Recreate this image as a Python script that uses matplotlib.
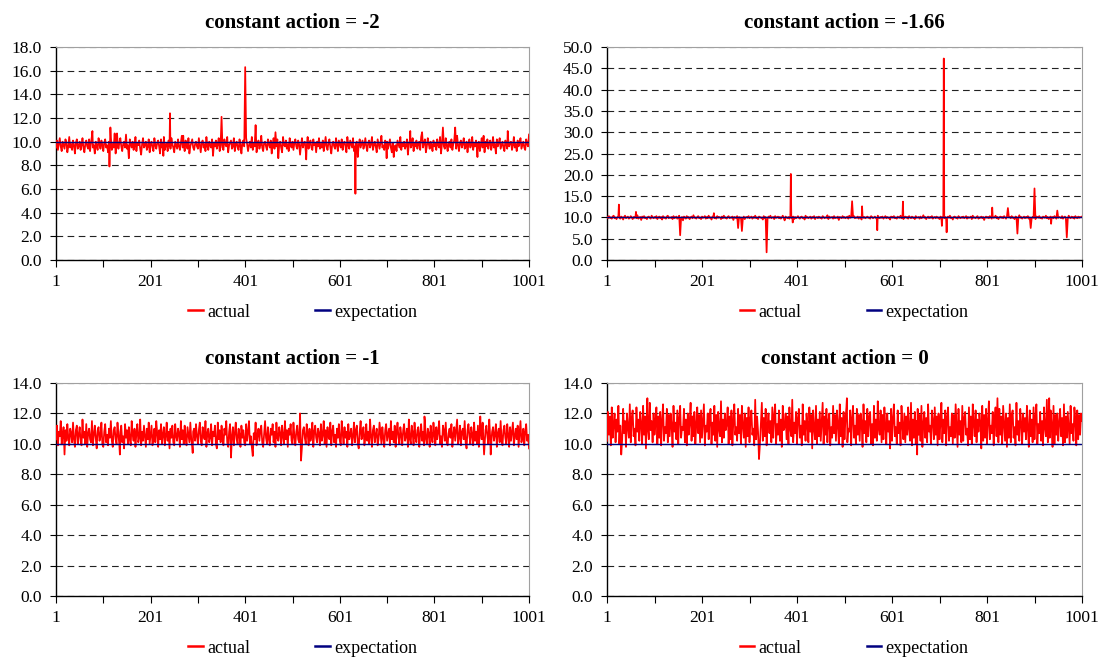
import numpy as np
import matplotlib
matplotlib.use('Agg')
import matplotlib.pyplot as plt

plt.rcParams['font.family'] = ['Liberation Serif', 'DejaVu Serif']

titles = ['constant action = -2', 'constant action = -1.66',
          'constant action = -1', 'constant action = 0']
expectation = [10.0, 10.0, 10.0, 10.0]
y_max = [18.0, 50.0, 14.0, 14.0]
y_step = [2.0, 5.0, 2.0, 2.0]

# noise of "actual", read every 2nd step (1, 3, 5, ... 1001)
p1_base = [
    9.5,10.1,9.3,9.8,10.3,9.6,9.2,10.0,9.7,9.4,10.2,9.9,9.1,9.6,10.4,9.5,9.8,9.3,10.1,9.7,9.0,9.9,10.2,9.4,9.6,
    10.0,9.3,9.7,10.3,9.5,9.1,9.8,10.1,9.6,9.4,10.2,9.2,9.9,10.5,9.5,9.7,9.0,10.0,9.6,9.3,10.3,9.8,9.4,10.1,9.7,
    9.2,9.9,10.2,9.5,9.7,9.1,10.0,9.6,10.4,9.3,9.8,9.5,10.2,9.0,9.7,10.1,9.4,9.9,10.3,9.6,9.2,9.8,10.0,9.5,10.6,
    9.4,9.7,9.1,10.2,9.8,9.5,10.0,9.3,9.6,10.4,9.2,9.9,9.7,10.1,9.4,8.9,9.8,10.3,9.5,9.7,10.0,9.3,9.6,10.2,9.1,
    9.8,10.0,9.5,9.2,10.3,9.7,9.4,9.9,10.1,9.6,9.0,10.2,9.5,9.8,10.4,9.3,9.7,9.9,9.2,10.1,9.6,9.4,10.3,9.8,9.5,
    9.1,10.0,9.7,9.4,10.2,9.6,9.3,9.9,10.5,9.5,9.8,9.2,10.1,9.7,9.4,10.3,9.0,9.6,9.9,10.2,9.5,9.3,9.8,10.0,9.6,
    9.4,10.3,9.7,9.1,9.9,10.1,9.5,9.8,9.2,10.4,9.6,9.3,10.0,9.7,9.5,10.2,8.8,9.9,9.6,10.1,9.4,9.8,10.3,9.2,9.7,
    10.0,9.5,9.3,10.2,9.8,9.6,10.4,9.1,9.7,9.9,10.1,9.4,9.6,10.3,9.2,9.8,10.0,9.5,9.3,10.2,9.7,9.0,9.9,10.1,9.6,
    9.4,10.3,9.8,9.2,9.7,10.0,9.5,10.4,9.3,9.9,9.6,10.2,9.1,9.8,10.1,9.4,9.7,10.5,9.5,9.2,9.9,10.0,9.6,9.3,10.2,
    9.8,9.5,10.1,9.0,9.7,10.3,9.4,9.9,9.6,10.2,9.3,9.8,10.0,9.5,9.1,10.4,9.7,9.6,10.1,9.4,9.8,9.2,10.3,9.7,9.5,
    10.0,9.3,9.9,10.2,9.6,9.4,10.1,9.8,8.9,9.7,10.3,9.5,9.9,10.0,9.2,9.6,10.4,9.4,9.8,10.1,9.5,9.3,10.2,9.7,9.9,
    9.1,10.0,9.6,10.3,9.4,9.8,9.5,10.1,9.2,9.7,10.4,9.6,9.3,9.9,10.2,9.5,9.0,9.8,10.0,9.6,9.4,10.3,9.7,9.2,10.1,
    9.8,9.5,10.2,9.3,9.9,10.0,9.6,9.1,10.4,9.7,9.4,10.1,9.8,9.5,10.3,9.2,9.6,9.9,10.0,8.7,9.7,10.2,9.5,9.8,10.1,
    9.4,9.7,10.3,9.6,9.2,9.9,10.1,9.5,9.8,10.4,9.3,9.7,10.0,9.6,9.1,10.2,9.8,9.4,9.9,10.5,9.5,9.7,9.3,10.1,9.6,
    10.0,9.4,9.8,10.2,9.5,9.1,9.9,10.3,9.6,9.7,9.2,10.1,9.8,9.5,10.4,9.3,9.9,9.6,10.0,9.4,9.7,10.2,8.9,9.8,10.1,
    9.5,9.7,10.3,9.2,9.9,9.6,10.1,9.4,9.8,10.0,9.3,10.4,9.7,9.5,9.9,10.2,9.1,9.6,10.3,9.8,9.4,10.0,9.7,9.2,10.1,
    9.6,9.9,9.3,10.2,9.7,9.5,10.4,9.0,9.8,10.1,9.6,9.4,10.3,9.7,9.2,9.9,10.0,9.5,10.2,9.3,9.8,10.1,9.6,9.4,10.5,
    9.7,9.2,9.9,10.1,9.5,9.8,10.3,9.4,9.6,10.0,9.1,9.8,10.2,9.5,9.7,10.4,9.3,9.9,9.6,10.1,9.4,9.8,10.0,9.2,9.7,
    10.3,9.5,9.8,9.1,10.0,9.6,10.2,9.4,9.9,10.1,9.3,9.7,10.4,9.5,9.8,9.0,10.2,9.6,9.9,10.3,9.4,9.7,10.0,9.5,9.2,
    10.1,9.8,9.4,10.2,9.6,9.9,10.0,9.3,9.7,10.4,9.5,9.8,9.2,10.1,9.6,9.9,10.3,9.4,9.7,10.0,9.5,9.3,10.2,9.8,9.6,
    10.6]
p1_spike_x = [78, 114, 116, 125, 130, 155, 228, 242, 270, 351, 401, 423, 465, 471,
              530, 634, 700, 715, 750, 775, 819, 845, 892, 905, 956]
p1_spike_y = [10.9, 7.9, 11.2, 10.7, 10.7, 8.6, 8.8, 12.4, 10.5, 12.1, 16.3, 11.4, 10.8, 8.6,
              8.5, 5.6, 8.6, 8.7, 10.9, 10.8, 11.2, 11.2, 8.7, 10.5, 10.9]

p2_base = [
    10.1,9.8,10.3,9.9,10.0,9.7,10.2,10.4,9.8,10.0,9.6,10.1,10.3,9.9,9.7,10.2,10.0,9.5,10.1,10.4,9.8,10.0,10.2,9.7,9.9,
    10.3,10.0,9.6,10.1,9.9,10.2,9.8,10.5,9.7,10.0,10.1,9.4,10.2,9.9,10.3,9.8,10.0,9.6,10.1,10.2,9.9,9.7,10.4,10.0,9.8,
    10.1,9.9,10.3,9.6,10.0,10.2,9.8,10.1,9.5,10.3,9.9,10.0,9.7,10.2,10.4,9.8,10.0,9.9,10.1,9.6,10.3,9.8,10.0,10.2,9.7,
    10.0,10.4,9.8,9.9,10.1,9.3,10.2,10.0,9.7,10.3,9.9,10.1,9.6,10.0,10.2,9.8,10.5,9.9,10.0,9.7,10.1,10.3,9.8,10.0,9.6,
    10.2,9.9,10.0,10.3,9.7,10.1,9.8,10.4,9.9,10.0,9.5,10.2,10.1,9.8,10.0,9.7,10.3,9.9,10.1,10.0,9.6,10.2,9.8,10.4,9.9,
    10.0,9.7,10.1,10.3,9.8,10.0,9.9,10.2,9.4,10.1,10.0,9.8,10.3,9.7,10.1,9.9,10.0,10.5,9.8,10.2,9.6,10.0,10.1,9.9,10.3,
    9.8,10.0,10.2,9.7,10.1,9.9,10.4,9.8,10.0,9.6,10.2,10.1,9.9,10.0,9.5,10.3,9.8,10.1,10.0,9.7,10.2,9.9,10.4,9.8,10.0,
    10.1,9.6,10.3,9.9,10.0,10.2,9.8,10.1,9.7,10.0,10.4,9.9,9.3,10.2,10.0,9.8,10.1,9.7,10.3,9.9,10.0,10.2,9.6,10.1,9.8,
    10.0,10.3,9.9,9.7,10.1,10.2,9.8,10.0,9.5,10.4,9.9,10.1,9.8,10.0,10.2,9.7,10.1,9.9,10.3,9.6,10.0,10.1,9.8,10.2,9.9,
    10.0,9.7,10.3,10.1,9.8,10.0,9.9,10.5,9.6,10.2,9.9,10.0,10.1,9.7,10.3,9.8,10.0,9.9,10.2,9.4,10.1,10.0,9.8,10.3,9.9,
    10.1,9.8,10.0,10.2,9.7,10.4,9.9,10.0,9.6,10.1,10.3,9.8,10.0,9.9,10.2,9.7,10.1,10.0,9.5,10.3,9.9,10.1,9.8,10.0,10.2,
    9.9,10.0,9.7,10.3,10.1,9.8,10.0,10.2,9.9,9.6,10.4,10.0,9.8,10.1,9.9,10.2,9.7,10.0,10.3,9.8,10.1,9.9,10.0,9.5,10.2,
    10.1,9.9,10.3,9.8,10.0,9.7,10.2,10.0,9.9,10.4,9.8,10.1,9.6,10.0,10.2,9.9,10.1,9.7,10.3,10.0,9.8,10.2,9.9,10.0,9.6,
    10.3,9.9,10.0,10.1,9.7,10.2,9.8,10.0,10.5,9.9,10.1,9.6,10.0,10.2,9.8,10.1,9.9,10.3,9.7,10.0,10.1,9.8,10.2,9.9,10.0,
    9.6,10.2,10.0,9.9,10.3,9.8,10.1,9.7,10.0,10.2,9.9,10.4,9.8,10.0,9.5,10.1,10.2,9.9,10.0,9.7,10.3,10.0,9.8,10.1,9.9,
    10.2,9.8,10.0,10.3,9.7,10.1,9.9,10.0,10.2,9.6,10.4,9.9,10.0,9.8,10.1,10.3,9.7,10.0,9.9,10.2,9.8,10.1,9.4,10.0,10.2,
    9.9,10.1,9.8,10.3,10.0,9.7,10.2,9.9,10.0,10.4,9.8,10.1,9.6,10.0,10.2,9.9,10.1,9.8,10.3,10.0,9.7,10.2,9.9,10.0,10.1,
    9.8,10.3,9.9,10.0,9.6,10.2,10.1,9.8,10.0,10.5,9.9,10.1,9.7,10.0,10.2,9.8,10.1,9.9,10.3,9.7,10.0,10.2,9.8,10.1,9.9,
    10.0,9.6,10.2,10.1,9.9,10.3,9.8,10.0,9.7,10.2,10.0,9.9,10.4,9.8,10.1,9.6,10.0,10.2,9.9,10.1,9.8,10.3,10.0,9.7,10.2,
    9.9,10.1,10.0,9.8,10.3,9.7,10.0,10.2,9.9,10.1,9.6,10.4,10.0,9.8,10.2,9.9,10.1,9.7,10.3,10.0,9.8,10.2,9.9,10.1,10.0,
    10.2]
p2_spike_x = [26, 62, 155, 226, 277, 285, 337, 388, 392, 517, 538, 570, 624,
              706, 710, 716, 812, 845, 865, 893, 901, 936, 949, 969]
p2_spike_y = [13.0, 11.3, 5.8, 11.0, 7.5, 6.8, 1.8, 20.2, 8.8, 13.8, 12.6, 7.0, 13.7,
              8.0, 47.3, 6.5, 12.3, 12.2, 6.2, 7.5, 16.8, 8.5, 11.6, 5.3]

p3_base = [
    10.3,11.2,9.9,10.8,10.5,11.5,10.0,10.6,11.1,9.8,10.9,10.2,11.3,10.4,9.9,11.0,10.7,10.1,11.4,10.3,9.8,10.9,11.2,10.0,10.6,
    11.1,10.2,9.9,11.6,10.4,10.8,10.0,11.3,9.8,10.7,11.0,10.3,10.1,11.5,9.9,10.6,11.2,10.4,9.7,10.9,11.1,10.2,10.5,11.4,10.0,
    9.8,10.8,11.3,10.1,10.6,9.9,11.0,10.4,11.5,10.2,9.8,10.9,11.1,10.3,10.0,11.4,10.6,9.9,10.8,11.2,10.1,10.5,9.7,11.3,10.4,
    10.9,10.0,11.1,10.3,9.9,11.5,10.6,10.2,11.0,9.8,10.7,11.3,10.1,10.4,11.6,9.9,10.8,10.2,11.2,10.5,9.8,11.0,10.3,11.4,10.0,
    10.6,11.2,9.9,10.4,11.0,10.1,11.5,10.7,9.8,10.9,10.3,11.3,10.0,10.6,11.1,9.9,10.5,11.4,10.2,10.8,9.7,11.0,10.4,11.2,10.1,
    9.9,11.3,10.5,10.2,11.0,10.7,9.8,11.5,10.3,10.9,10.0,11.2,10.4,9.9,11.1,10.6,10.1,11.4,10.3,9.8,10.8,11.0,10.2,11.3,10.5,
    10.0,10.9,11.4,10.2,9.9,11.1,10.6,10.3,11.5,9.8,10.7,11.0,10.1,10.4,11.3,9.9,10.8,10.5,11.2,10.0,9.7,11.4,10.3,10.9,10.1,
    11.2,10.4,9.9,11.0,10.6,11.5,10.1,9.8,10.8,11.3,10.2,10.5,11.1,9.9,10.7,11.4,10.3,10.0,11.0,10.6,9.8,11.2,10.4,10.9,10.1,
    9.9,11.3,10.2,10.8,11.5,10.0,10.5,9.8,11.1,10.7,10.3,11.4,9.9,10.6,11.0,10.2,10.9,11.2,10.1,9.8,10.7,11.5,10.4,10.0,11.1,
    10.3,9.9,11.0,10.6,11.3,10.1,10.8,9.8,11.4,10.4,10.2,11.1,10.7,9.9,11.2,10.5,10.0,11.5,10.3,10.9,9.8,11.0,10.6,11.3,10.2,
    10.0,11.4,10.5,9.9,10.8,11.2,10.3,10.1,11.6,10.6,9.8,10.9,11.1,10.4,10.0,11.3,10.7,9.9,11.0,10.2,10.5,11.4,9.8,10.8,11.2,
    10.4,10.1,11.0,10.7,9.9,11.3,10.2,10.6,11.5,10.0,10.9,9.8,11.1,10.5,10.3,11.4,9.9,10.8,11.2,10.1,10.6,9.8,11.0,10.4,11.3,
    10.2,9.9,11.5,10.7,10.0,11.1,10.4,10.8,9.8,11.3,10.3,10.6,11.0,9.9,10.5,11.4,10.1,10.9,11.2,10.0,9.7,10.8,11.5,10.3,10.6,
    11.1,9.9,10.4,11.3,10.2,10.8,10.0,11.6,10.5,9.8,10.9,11.2,10.1,10.6,11.0,9.9,10.3,11.4,10.7,10.0,11.1,10.4,9.8,10.9,11.3,
    10.2,10.6,11.0,9.9,11.5,10.3,10.8,10.1,11.2,9.8,10.7,11.4,10.4,10.0,11.1,10.6,9.9,10.9,11.3,10.2,10.5,11.0,9.8,11.6,10.3,
    10.0,11.2,10.7,9.9,11.4,10.4,10.1,10.9,11.1,9.8,10.6,11.3,10.2,10.8,9.9,11.5,10.3,10.0,11.0,10.7,9.8,11.2,10.5,10.1,11.4,
    10.6,9.9,11.1,10.3,10.8,11.5,10.0,10.5,9.8,11.2,10.9,10.2,11.4,10.1,9.9,10.7,11.0,10.4,11.3,9.8,10.6,11.1,10.2,10.9,11.6,
    10.0,10.4,11.2,9.9,10.8,11.0,10.3,11.5,10.1,9.7,10.9,11.3,10.5,10.0,11.1,10.6,9.9,11.4,10.2,10.8,10.0,11.2,9.8,10.7,11.0,
    10.3,11.4,10.1,9.8,10.9,11.2,10.5,10.0,11.6,10.4,9.9,10.8,11.1,10.2,10.6,11.3,9.8,10.7,11.0,10.1,11.5,10.3,9.9,10.9,11.2,
    10.4,10.0,11.3,10.6,9.8,11.1,10.2,10.8,11.4,9.9,10.5,11.0,10.3,11.2,9.8,10.7,11.5,10.1,10.4,11.0,9.9,10.8,11.3,10.2,10.6,
    9.7]
p3_spike_x = [19, 136, 290, 371, 417, 517, 519, 780, 898, 906, 920]
p3_spike_y = [9.3, 9.3, 9.4, 9.1, 9.2, 12.0, 8.9, 11.8, 11.8, 9.3, 9.3]

p4_base = [
    10.2,12.1,10.6,11.8,9.9,12.4,10.4,11.3,12.0,10.1,11.6,10.8,12.5,10.0,11.2,11.9,10.3,12.3,10.7,11.5,9.8,12.0,11.1,10.4,12.6,
    10.1,11.7,12.2,10.5,11.0,9.9,12.4,10.8,11.6,10.2,12.1,11.3,10.0,12.5,10.6,11.8,9.7,12.2,11.0,10.3,12.7,10.9,11.5,10.1,12.0,
    10.6,11.3,12.4,10.0,11.8,10.4,12.1,9.9,11.6,12.6,10.2,11.1,10.7,12.3,10.1,11.9,10.5,12.0,11.2,9.8,12.5,10.8,11.4,10.3,12.2,
    10.0,11.7,12.5,10.4,11.1,10.9,12.3,10.1,11.6,9.9,12.0,10.6,11.4,12.7,10.2,11.8,10.5,12.1,10.0,11.3,12.4,10.7,11.9,10.1,12.2,
    10.4,11.5,12.6,9.9,11.2,10.8,12.0,10.3,11.7,12.3,10.0,11.4,10.6,12.5,10.2,11.9,9.8,12.1,11.0,10.5,12.8,10.1,11.6,10.4,12.0,
    10.9,11.3,12.4,10.0,11.8,10.3,12.2,9.9,11.5,12.6,10.6,11.1,10.2,12.3,10.7,11.9,10.0,12.5,11.2,10.4,12.0,9.8,11.7,10.5,12.4,
    10.1,11.6,12.2,10.6,11.0,9.9,12.5,10.3,11.8,10.8,12.1,10.0,11.4,12.7,10.2,11.7,10.5,12.3,9.9,11.2,12.0,10.7,11.5,10.1,12.4,
    10.4,11.9,12.6,10.0,11.3,10.6,12.2,10.2,11.6,9.8,12.5,10.9,11.1,12.0,10.3,11.8,10.0,12.4,11.0,10.5,12.9,10.1,11.4,10.7,12.1,
    10.0,11.7,12.3,10.4,11.2,9.9,12.6,10.6,11.5,10.2,12.0,11.3,10.1,12.4,10.8,11.9,9.7,12.2,11.0,10.3,12.5,10.0,11.6,10.5,12.1,
    10.2,11.4,12.7,10.0,11.8,10.6,12.3,10.1,11.5,12.0,9.9,11.1,10.4,12.5,10.7,11.9,10.2,12.2,11.3,10.0,12.6,10.5,11.7,9.8,12.1,
    10.3,11.6,12.4,10.1,11.0,10.8,12.2,9.9,11.7,12.5,10.4,11.2,10.0,12.3,10.6,11.9,10.2,12.0,11.4,9.8,12.6,10.7,11.5,10.1,12.3,
    10.5,11.8,12.1,10.0,11.3,9.9,12.5,10.4,11.6,10.2,12.8,11.0,10.6,12.2,10.1,11.9,10.3,12.4,11.1,10.0,12.0,10.8,11.5,9.7,12.3,
    10.2,11.7,12.6,10.5,11.1,10.0,12.2,10.7,11.4,9.9,12.5,11.2,10.3,12.0,10.1,11.8,10.6,12.4,11.0,10.2,12.7,9.9,11.6,10.4,12.1,
    10.0,11.5,12.3,10.6,11.9,10.2,12.5,9.8,11.3,12.1,10.4,11.7,10.1,12.6,10.8,11.2,10.0,12.2,11.5,10.3,12.4,10.6,11.8,9.9,12.0,
    10.3,11.4,12.7,10.1,11.6,10.7,12.2,9.9,11.8,12.4,10.2,11.1,10.5,12.0,10.0,11.9,10.4,12.6,11.2,9.8,12.3,10.6,11.5,10.1,12.5,
    10.2,11.7,12.1,10.6,11.0,9.9,12.4,10.3,11.8,10.0,12.6,11.3,10.5,12.2,10.1,11.6,10.8,12.0,11.4,9.7,12.5,10.2,11.9,10.4,12.3,
    10.0,11.5,12.8,10.3,11.2,10.7,12.1,9.9,11.6,12.4,10.5,11.0,10.1,12.3,10.6,11.8,10.0,12.5,11.3,10.2,12.0,9.8,11.7,10.4,12.6,
    10.1,11.9,12.2,10.4,11.1,9.9,12.7,10.6,11.5,10.2,12.3,11.4,10.0,12.0,10.8,11.7,10.3,12.5,11.0,9.8,12.2,10.5,11.6,10.1,12.4,
    10.3,11.8,12.6,10.0,11.3,10.7,12.1,10.2,11.5,9.9,12.4,11.1,10.5,12.9,10.1,11.6,10.4,12.2,11.2,9.8,12.5,10.0,11.9,10.6,12.0,
    10.2,11.4,12.3,10.5,11.7,9.9,12.6,10.1,11.8,10.4,12.1,11.0,10.0,12.5,10.7,11.3,10.2,12.4,11.6,9.9,12.2,10.3,11.9,10.6,12.0,
    11.5]
p4_spike_x = [31, 86, 313, 321, 506, 654, 823, 932]
p4_spike_y = [9.3, 13.0, 12.9, 9.0, 13.0, 9.3, 13.0, 13.0]

bases = [p1_base, p2_base, p3_base, p4_base]
spikes_x = [p1_spike_x, p2_spike_x, p3_spike_x, p4_spike_x]
spikes_y = [p1_spike_y, p2_spike_y, p3_spike_y, p4_spike_y]


def merge(base, sx, sy):
    x = np.linspace(1, 1001, len(base))
    d = dict(zip(x.tolist(), base))
    d.update(zip([float(v) for v in sx], sy))
    xs = sorted(d)
    return np.array(xs), np.array([d[k] for k in xs])


fig = plt.figure(figsize=(11.02, 6.59), dpi=100)
W, H = 1102.0, 659.0
# plot areas in pixels: left, right, top, bottom
boxes = [(56, 529, 47, 260), (607, 1082, 47, 260),
         (56, 529, 383, 596), (607, 1082, 383, 596)]

for i in range(4):
    l, r, t, b = boxes[i]
    ax = fig.add_axes([l / W, 1 - b / H, (r - l) / W, (b - t) / H])
    x, y = merge(bases[i], spikes_x[i], spikes_y[i])
    ax.plot(x, y, color='#ff0000', lw=1.25, label='actual', zorder=3)
    ax.plot(x, np.full(len(x), expectation[i]), color='#000080', lw=1.0,
            label='expectation', zorder=4)

    ax.set_xlim(1, 1001)
    ax.set_ylim(0, y_max[i])
    yt = np.arange(0, y_max[i] + 0.01, y_step[i])
    ax.set_yticks(yt)
    ax.set_yticklabels(['%.1f' % v for v in yt], fontsize=12.5)
    xt = list(range(1, 1002, 100))
    ax.set_xticks(xt)
    ax.set_xticklabels([str(v) if (v - 1) % 200 == 0 else '' for v in xt], fontsize=12.5)
    ax.tick_params(axis='x', direction='out', length=5, width=0.8, pad=5)
    ax.tick_params(axis='y', direction='out', length=4, width=0.8, pad=6)

    ax.yaxis.grid(True, linestyle=(0, (6, 4)), color='#222222', lw=0.8)
    ax.set_axisbelow(True)
    for s in ['left', 'bottom']:
        ax.spines[s].set_color('black')
        ax.spines[s].set_linewidth(1.0)
    for s in ['right', 'top']:
        ax.spines[s].set_color('#a0a0a0')
        ax.spines[s].set_linewidth(0.8)

    ax.set_title(titles[i], fontsize=15, fontweight='bold', pad=14)
    leg = ax.legend(loc='center left', bbox_to_anchor=(0.245, -0.245), ncol=2,
                    frameon=False, fontsize=13, handlelength=0.8,
                    handletextpad=0.25, columnspacing=3.6)
    for h in leg.get_lines():
        h.set_linewidth(1.8)

fig.savefig('out.png', dpi=100)
